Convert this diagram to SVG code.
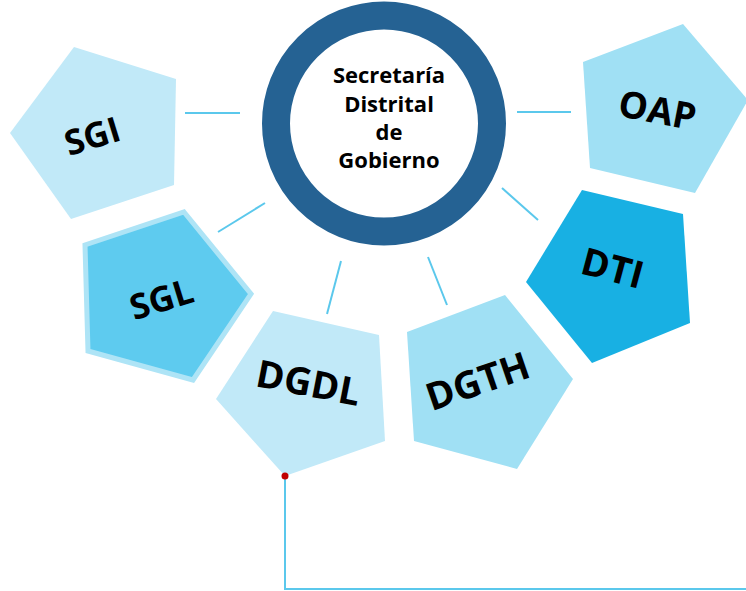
<svg xmlns="http://www.w3.org/2000/svg" width="746" height="591" viewBox="0 0 746 591">
<style>
.lbl{font-family:"Open Sans","DejaVu Sans",sans-serif;font-weight:700;fill:#000;text-anchor:middle}
.ctr{font-family:"Open Sans","DejaVu Sans",sans-serif;font-weight:700;font-size:22px;fill:#000;text-anchor:middle}
.con{stroke:#5bc8ec;stroke-width:2;fill:none}
</style>
<rect width="746" height="591" fill="#ffffff"/>
<g id="connectors">
<line class="con" x1="185" y1="113" x2="240" y2="113"/>
<line class="con" x1="218" y1="232" x2="265" y2="203"/>
<line class="con" x1="341" y1="261" x2="327" y2="314"/>
<line class="con" x1="428" y1="257" x2="447" y2="305"/>
<line class="con" x1="502" y1="188" x2="538" y2="220"/>
<line class="con" x1="517" y1="112" x2="571" y2="112"/>
<polyline class="con" stroke-width="2.5" points="285,476 285,589 746,589"/>
</g>
<g id="center">
<circle cx="384" cy="123.5" r="108" fill="#ffffff" stroke="#256293" stroke-width="28"/>
<text class="ctr" x="389" y="83">Secretaría</text>
<text class="ctr" x="389" y="112">Distrital</text>
<text class="ctr" x="389" y="140">de</text>
<text class="ctr" x="389" y="168">Gobierno</text>
</g>
<g id="SGI">
<polygon points="74,47 176,79 174,185 71,219 10,133" fill="#c1e9f8"/>
<text class="lbl" font-size="35" transform="translate(96,148) rotate(-17)">SGI</text>
</g>
<g id="SGL">
<polygon points="184,212 251,294 193,380 88,351 85,245" fill="#5ecbef" stroke="#aee4f6" stroke-width="5" stroke-linejoin="miter"/>
<text class="lbl" font-size="35" transform="translate(165,311) rotate(-17)">SGL</text>
</g>
<g id="DGDL">
<polygon points="273,311 379,335 385,441 285,476 216,399" fill="#c1e9f8"/>
<text class="lbl" font-size="38" transform="translate(306,396) rotate(11)">DGDL</text>
</g>
<g id="DGTH">
<polygon points="505,295 573,379 517,469 414,441 407,332" fill="#a0e0f4"/>
<text class="lbl" font-size="38" transform="translate(482,394) rotate(-19)">DGTH</text>
</g>
<g id="DTI">
<polygon points="582,190 683,214 690,323 592,363 526,282" fill="#18b0e3"/>
<text class="lbl" font-size="38" transform="translate(609,281) rotate(15)">DTI</text>
</g>
<g id="OAP">
<polygon points="683,24 748,100 695,193 590,168 583,62" fill="#a0e0f4"/>
<text class="lbl" font-size="37" transform="translate(655,123) rotate(11)">OAP</text>
</g>
<circle cx="285" cy="476" r="3.5" fill="#c00000"/>
</svg>
